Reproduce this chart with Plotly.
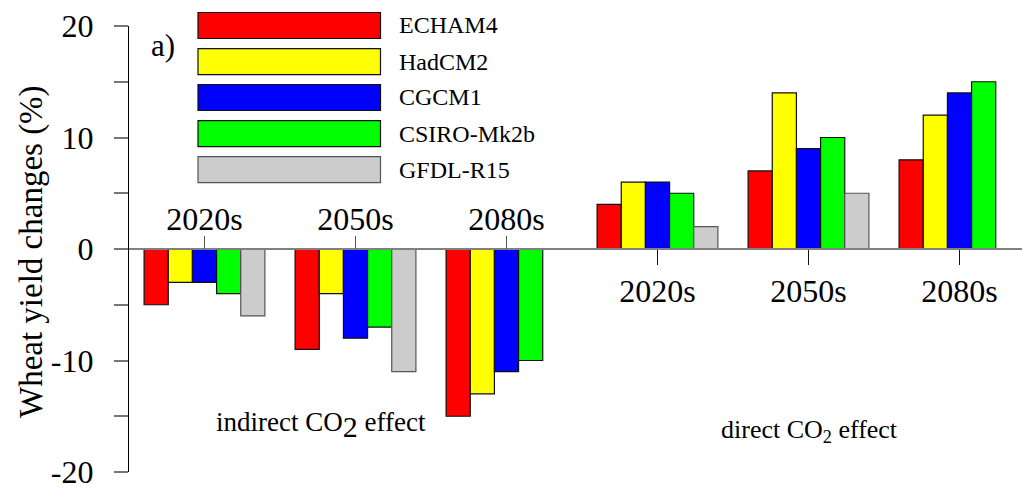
import plotly.graph_objects as go

# ---- data ----
models = ["ECHAM4", "HadCM2", "CGCM1", "CSIRO-Mk2b", "GFDL-R15"]
colors = ["#FF0000", "#FFFF00", "#0000FF", "#00FF00", "#CCCCCC"]
group_labels = ["2020s", "2050s", "2080s", "2020s", "2050s", "2080s"]
group_pos = [0, 1, 2, 3, 4, 5]
values = {
    "ECHAM4":     [-5, -9, -15, 4, 7, 8],
    "HadCM2":     [-3, -4, -13, 6, 14, 12],
    "CGCM1":      [-3, -8, -11, 6, 9, 14],
    "CSIRO-Mk2b": [-4, -7, -10, 5, 10, 15],
    "GFDL-R15":   [-6, -11, 0, 2, 5, 0],
}
y_major = [-20, -10, 0, 10, 20]
y_major_text = ["-20", "-10", "0", "10", "20"]
y_minor = [-15, -5, 5, 15]

FONT = "Liberation Serif, Times New Roman, serif"
W, H = 1026, 491
ML, MR, MT, MB = 129, 4, 26, 19
PW = W - ML - MR
PH = H - MT - MB


def px(x):
    return (x - ML) / PW


def py(y):
    return (H - MB - y) / PH


fig = go.Figure()
for m, c in zip(models, colors):
    lc = "#555555" if m == "GFDL-R15" else "#111111"
    fig.add_trace(go.Bar(
        x=group_pos, y=values[m], name=m,
        marker=dict(color=c, line=dict(color=lc, width=1.2)),
        showlegend=False,
    ))

# invisible trace to activate top axis
fig.add_trace(go.Scatter(x=[0], y=[0], xaxis="x2", mode="markers",
                         marker=dict(opacity=0), showlegend=False, hoverinfo="skip"))

xrange = [-0.5, -0.5 + PW / 151.0]

fig.update_layout(
    width=W, height=H,
    margin=dict(l=ML, r=MR, t=MT, b=MB),
    paper_bgcolor="white", plot_bgcolor="white",
    barmode="group", bargap=0.2, bargroupgap=0,
    font=dict(family=FONT, color="black"),
    xaxis=dict(
        range=xrange, anchor="free", position=0.5, automargin=False,
        showline=True, linecolor="#808080", linewidth=1.5,
        showgrid=False, zeroline=False,
        tickmode="array", tickvals=group_pos[3:], ticktext=group_labels[3:],
        ticks="outside", ticklen=15, tickwidth=1.2, tickcolor="#111111",
        tickfont=dict(family=FONT, size=32, color="black"),
        ticklabelstandoff=-1,
    ),
    xaxis2=dict(
        range=xrange, overlaying="x", side="top", anchor="free", position=0.5,
        automargin=False,
        showline=False, showgrid=False, zeroline=False,
        tickmode="array", tickvals=group_pos[:3], ticktext=group_labels[:3],
        ticks="outside", ticklen=13, tickwidth=1.2, tickcolor="#555555",
        tickfont=dict(family=FONT, size=32, color="black"),
        ticklabelstandoff=-7,
    ),
    yaxis=dict(
        range=[-20, 20], showline=True, linecolor="black", linewidth=1.3,
        automargin=False, ticklabeloverflow="allow",
        showgrid=False, zeroline=False,
        tickmode="array", tickvals=y_major, ticktext=y_major_text,
        ticks="outside", ticklen=14, tickwidth=1.5, tickcolor="#777777",
        tickfont=dict(family=FONT, size=32, color="black"),
        ticklabelstandoff=14,
        minor=dict(tickmode="array", tickvals=y_minor, ticks="outside",
                   ticklen=14, tickwidth=1.5, tickcolor="#777777", showgrid=False),
    ),
)

annotations = []
shapes = []
# custom legend with wide swatches
row_tops = [12.5, 48.7, 84.5, 120.7, 156.7]
for m, c, top in zip(models, colors, row_tops):
    lc = "#555555" if m == "GFDL-R15" else "#111111"
    shapes.append(dict(type="rect", xref="paper", yref="paper",
                       x0=px(198), x1=px(380.5), y0=py(top + 26), y1=py(top),
                       fillcolor=c, line=dict(color=lc, width=1.2)))
    annotations.append(dict(xref="paper", yref="paper", x=px(397), y=py(top + 13),
                            text=m, showarrow=False, xanchor="left", yanchor="middle",
                            font=dict(family=FONT, size=24, color="black")))

annotations.append(dict(xref="paper", yref="paper", x=px(149), y=py(45), text="a)",
                        showarrow=False, xanchor="left", yanchor="middle",
                        font=dict(family=FONT, size=31, color="black")))
annotations.append(dict(xref="paper", yref="paper", x=px(321), y=py(425),
                        text="indirect CO<sub><span style='font-size:30px'>2</span></sub> effect",
                        showarrow=False, xanchor="center", yanchor="middle",
                        font=dict(family=FONT, size=27, color="black")))
annotations.append(dict(xref="paper", yref="paper", x=px(809), y=py(431),
                        text="direct CO<sub>2</sub> effect", showarrow=False,
                        xanchor="center", yanchor="middle",
                        font=dict(family=FONT, size=26, color="black")))
annotations.append(dict(xref="paper", yref="paper", x=px(31), y=py(252),
                        text="Wheat yield changes (%)", showarrow=False, textangle=-90,
                        xanchor="center", yanchor="middle",
                        font=dict(family=FONT, size=33, color="black")))

fig.update_layout(annotations=annotations, shapes=shapes)
fig.write_html("out.html", config={"displayModeBar": False},
               post_script="document.body.style.margin='0';document.body.style.padding='0';")
